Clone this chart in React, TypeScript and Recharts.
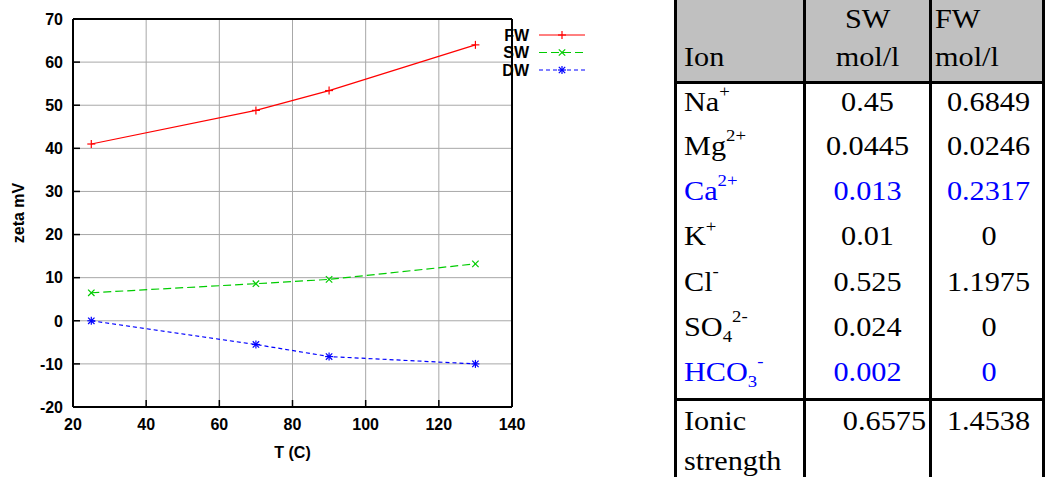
import React from 'react';
import { LineChart, Line, XAxis, YAxis, CartesianGrid } from 'recharts';

// ---- chart data ----
const temperatures = [25, 70, 90, 130];
const fwZeta = [41.0, 48.8, 53.4, 64.0];
const swZeta = [6.5, 8.6, 9.6, 13.2];
const dwZeta = [0.0, -5.5, -8.3, -10.0];

const xTicks = [20, 40, 60, 80, 100, 120, 140];
const yTicks = [-20, -10, 0, 10, 20, 30, 40, 50, 60, 70];

const seriesKeys = ['FW', 'SW', 'DW'];
const seriesColors = ['#ff0000', '#00cc00', '#0000ff'];
const seriesDash = ['', '8 4', '4 3'];
const seriesMarkers = ['plus', 'cross', 'star'];

// ---- table data ----
const ionBase = ['Na', 'Mg', 'Ca', 'K', 'Cl', 'SO', 'HCO'];
const ionSub = ['', '', '', '', '', '4', '3'];
const ionSup = ['+', '2+', '2+', '+', '-', '2-', '-'];
const swMol = ['0.45', '0.0445', '0.013', '0.01', '0.525', '0.024', '0.002'];
const fwMol = ['0.6849', '0.0246', '0.2317', '0', '1.1975', '0', '0'];
const ionHighlight = [false, false, true, false, false, false, true];
const ionicStrength = ['0.6575', '1.4538'];

const data = temperatures.map((t, i) => ({
  T: t,
  FW: fwZeta[i],
  SW: swZeta[i],
  DW: dwZeta[i],
}));

const FONT = '"Liberation Sans", Arial, Helvetica, sans-serif';
const SERIF = '"Liberation Serif", "Times New Roman", Times, serif';

function Marker({ kind, cx, cy, color }: any) {
  const r = 4;
  const d = 3.2;
  const parts: any[] = [];
  if (kind === 'plus' || kind === 'star') {
    parts.push(<line key="h" x1={cx - r} y1={cy} x2={cx + r} y2={cy} stroke={color} strokeWidth={1.2} />);
    parts.push(<line key="v" x1={cx} y1={cy - r} x2={cx} y2={cy + r} stroke={color} strokeWidth={1.2} />);
  }
  if (kind === 'cross' || kind === 'star') {
    parts.push(<line key="a" x1={cx - d} y1={cy - d} x2={cx + d} y2={cy + d} stroke={color} strokeWidth={1.2} />);
    parts.push(<line key="b" x1={cx - d} y1={cy + d} x2={cx + d} y2={cy - d} stroke={color} strokeWidth={1.2} />);
  }
  return <g>{parts}</g>;
}

const makeDot = (kind: string, color: string) => (props: any) => {
  const { cx, cy, index } = props;
  return (
    <g key={`dot-${kind}-${index}`}>
      <Marker kind={kind} cx={cx} cy={cy} color={color} />
    </g>
  );
};

const YLabel = (props: any) => {
  const vb = props.viewBox || {};
  const x = vb.x - 15;
  const y = vb.y + vb.height / 2;
  return (
    <text x={x} y={y} transform={`rotate(-90, ${x}, ${y})`} textAnchor="middle" dominantBaseline="central"
      fontFamily={FONT} fontWeight="bold" fontSize={16} fill="#000">zeta mV</text>
  );
};

const XLabel = (props: any) => {
  const vb = props.viewBox || {};
  const x = vb.x + vb.width / 2;
  return (
    <text x={x} y={458} textAnchor="middle" fontFamily={FONT} fontWeight="bold" fontSize={16} fill="#000">T (C)</text>
  );
};

const XTick = (props: any) => {
  const { x, y, payload } = props;
  return (
    <text x={x} y={y} dy="0.72em" textAnchor="middle" fontFamily={FONT} fontWeight="bold" fontSize={16} fill="#000">
      {payload.value}
    </text>
  );
};

const YTick = (props: any) => {
  const { x, y, payload } = props;
  return (
    <text x={x} y={y} dy="0.36em" textAnchor="end" fontFamily={FONT} fontWeight="bold" fontSize={16} fill="#000">
      {payload.value}
    </text>
  );
};

const axisLineStyle = { stroke: '#000', strokeWidth: 2 };
const tickLineStyle = { stroke: '#000', strokeWidth: 1.5 };

function LegendOverlay() {
  const rows = seriesKeys.map((k, i) => {
    const y = 15 + i * 17.5;
    return (
      <g key={k}>
        <text x={39} y={y} textAnchor="end" dominantBaseline="central" fontFamily={FONT} fontWeight="bold" fontSize={16} fill="#000">{k}</text>
        <line x1={49} y1={y} x2={95} y2={y} stroke={seriesColors[i]} strokeWidth={1} strokeDasharray={seriesDash[i] || undefined} />
        <Marker kind={seriesMarkers[i]} cx={72} cy={y} color={seriesColors[i]} />
      </g>
    );
  });
  return (
    <svg width={110} height={60} style={{ position: 'absolute', left: 490, top: 20, overflow: 'visible' }}>
      {rows}
    </svg>
  );
}

const Sup = ({ children }: any) => (
  <span style={{ fontSize: '0.62em', position: 'relative', top: '-0.8em' }}>{children}</span>
);
const Sub = ({ children }: any) => (
  <span style={{ fontSize: '0.62em', position: 'relative', top: '0.35em' }}>{children}</span>
);

const Wide = ({ children, origin }: any) => (
  <span style={{ display: 'inline-block', transform: 'scaleX(1.08)', transformOrigin: origin }}>{children}</span>
);

const border = '3px solid #000';

function IonTable() {
  const cellBase: any = {
    borderLeft: border,
    borderRight: border,
    padding: 0,
    verticalAlign: 'top',
    lineHeight: '30px',
    height: 45.3,
    boxSizing: 'border-box',
    whiteSpace: 'nowrap',
  };
  return (
    <table
      style={{
        position: 'absolute',
        left: 674,
        top: 0,
        borderCollapse: 'collapse',
        fontFamily: SERIF,
        fontSize: 28,
        color: '#000',
        tableLayout: 'fixed',
      }}
    >
      <colgroup>
        <col style={{ width: 131 }} />
        <col style={{ width: 128 }} />
        <col style={{ width: 115 }} />
      </colgroup>
      <tbody>
        <tr style={{ background: '#c0c0c0', height: 81 }}>
          <td style={{ ...cellBase, height: 81, verticalAlign: 'bottom', lineHeight: '38px', paddingLeft: 7, paddingBottom: 5, borderBottom: border }}>
            <Wide origin="left">Ion</Wide>
          </td>
          <td style={{ ...cellBase, height: 81, verticalAlign: 'bottom', lineHeight: '38px', textAlign: 'center', paddingBottom: 5, borderBottom: border }}>
            <Wide origin="center">SW<br />mol/l</Wide>
          </td>
          <td style={{ ...cellBase, height: 81, verticalAlign: 'bottom', lineHeight: '38px', paddingLeft: 3, paddingBottom: 5, borderBottom: border }}>
            <Wide origin="left">FW<br />mol/l</Wide>
          </td>
        </tr>
        {ionBase.map((b, i) => {
          const color = ionHighlight[i] ? '#0000ff' : '#000';
          return (
            <tr key={b} style={{ color }}>
              <td style={{ ...cellBase, paddingLeft: 7, paddingTop: 3 }}>
                <Wide origin="left">
                  {b}
                  {ionSub[i] ? <Sub>{ionSub[i]}</Sub> : null}
                  <Sup>{ionSup[i]}</Sup>
                </Wide>
              </td>
              <td style={{ ...cellBase, textAlign: 'center', paddingTop: 3 }}>
                <Wide origin="center">{swMol[i]}</Wide>
              </td>
              <td style={{ ...cellBase, textAlign: 'center', paddingTop: 3, paddingLeft: 4 }}>
                <Wide origin="center">{fwMol[i]}</Wide>
              </td>
            </tr>
          );
        })}
        <tr>
          <td style={{ ...cellBase, borderTop: border, paddingLeft: 7, paddingTop: 0, lineHeight: '40px', height: 90 }}>
            <Wide origin="left">Ionic<br />strength</Wide>
          </td>
          <td style={{ ...cellBase, borderTop: border, textAlign: 'right', paddingRight: 3, paddingTop: 0, lineHeight: '40px', height: 90 }}>
            <Wide origin="right">{ionicStrength[0]}</Wide>
          </td>
          <td style={{ ...cellBase, borderTop: border, textAlign: 'center', paddingTop: 0, paddingLeft: 4, lineHeight: '40px', height: 90 }}>
            <Wide origin="center">{ionicStrength[1]}</Wide>
          </td>
        </tr>
      </tbody>
    </table>
  );
}

export default function App() {
  return (
    <div style={{ position: 'absolute', left: 0, top: 0, width: 1045, height: 477, overflow: 'hidden', background: '#fff' }}>
      <div style={{ position: 'absolute', left: 0, top: 0 }}>
        <LineChart width={660} height={477} data={data} margin={{ top: 18, right: 147, bottom: 40, left: 33 }}>
          <CartesianGrid stroke="#a8a8a8" strokeWidth={1} />
          <XAxis
            dataKey="T"
            type="number"
            domain={[20, 140]}
            ticks={xTicks}
            interval={0}
            height={30}
            tickSize={-7}
            tickMargin={18}
            tick={<XTick />}
            axisLine={axisLineStyle}
            tickLine={tickLineStyle}
            label={<XLabel />}
            allowDataOverflow
          />
          <XAxis
            xAxisId="top"
            orientation="top"
            dataKey="T"
            type="number"
            domain={[20, 140]}
            ticks={xTicks}
            interval={0}
            height={1}
            tickSize={-7}
            tick={false}
            axisLine={axisLineStyle}
            tickLine={tickLineStyle}
            allowDataOverflow
          />
          <YAxis
            type="number"
            domain={[-20, 70]}
            ticks={yTicks}
            interval={0}
            width={40}
            tickSize={-7}
            tickMargin={17}
            tick={<YTick />}
            axisLine={axisLineStyle}
            tickLine={tickLineStyle}
            label={<YLabel />}
            allowDataOverflow
          />
          <YAxis
            yAxisId="right"
            orientation="right"
            type="number"
            domain={[-20, 70]}
            ticks={yTicks}
            interval={0}
            width={1}
            tickSize={-7}
            tick={false}
            axisLine={axisLineStyle}
            tickLine={tickLineStyle}
            allowDataOverflow
          />
          {seriesKeys.map((k, i) => (
            <Line
              key={k}
              dataKey={k}
              type="linear"
              stroke={seriesColors[i]}
              strokeWidth={1.2}
              strokeDasharray={seriesDash[i] || undefined}
              dot={makeDot(seriesMarkers[i], seriesColors[i])}
              activeDot={false}
              isAnimationActive={false}
            />
          ))}
        </LineChart>
      </div>
      <LegendOverlay />
      <IonTable />
    </div>
  );
}
